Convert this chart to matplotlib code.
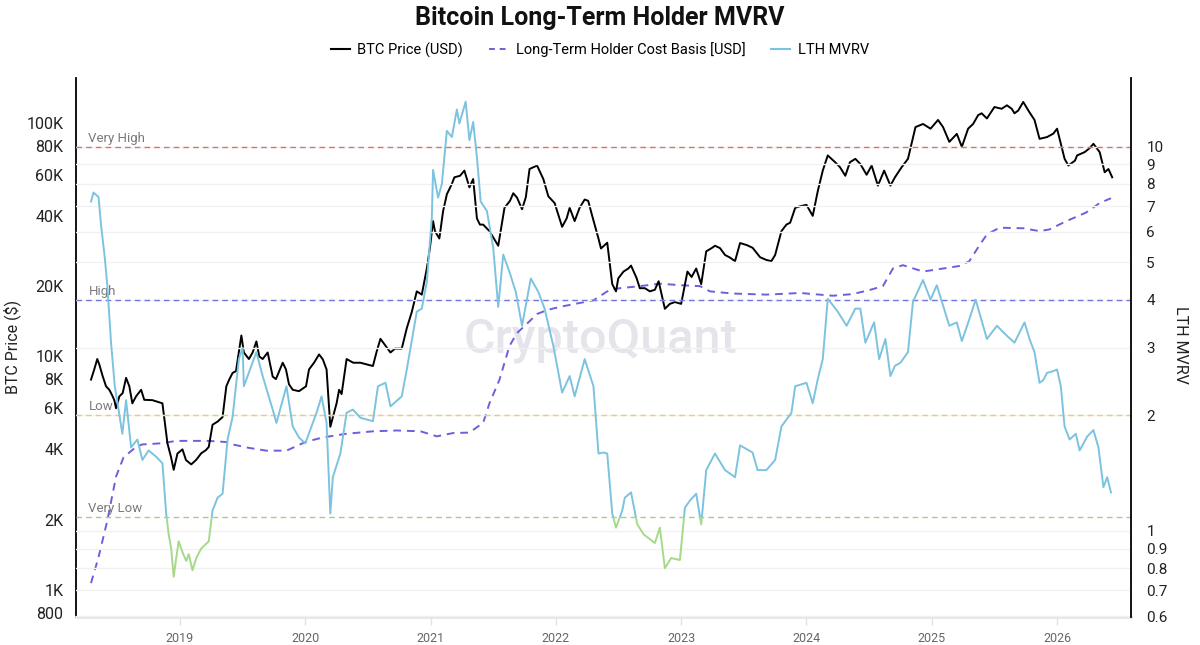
import matplotlib
matplotlib.use("Agg")
import matplotlib.pyplot as plt
from matplotlib.patches import Rectangle
from matplotlib.lines import Line2D
from matplotlib.ticker import NullLocator

plt.rcParams['font.family'] = ['Roboto', 'DejaVu Sans']

# ---------------- data (decimal year, value) ----------------
price_t = [2018.29, 2018.316, 2018.34, 2018.356, 2018.383, 2018.41, 2018.436, 2018.46, 2018.476, 2018.49,
           2018.516, 2018.543, 2018.57, 2018.596, 2018.62, 2018.649, 2018.69, 2018.715, 2018.78, 2018.86,
           2018.90, 2018.928, 2018.95, 2018.98, 2019.02, 2019.048, 2019.09, 2019.128, 2019.17, 2019.207,
           2019.23, 2019.26, 2019.30, 2019.34, 2019.37, 2019.393, 2019.42, 2019.447, 2019.49, 2019.51,
           2019.55, 2019.58, 2019.61, 2019.633, 2019.66, 2019.70, 2019.74, 2019.766, 2019.82, 2019.846,
           2019.87, 2019.90, 2019.95, 2020.006, 2020.03, 2020.07, 2020.11, 2020.14, 2020.17, 2020.20,
           2020.25, 2020.27, 2020.29, 2020.33, 2020.383, 2020.44, 2020.49, 2020.54, 2020.57, 2020.60,
           2020.68, 2020.716, 2020.77, 2020.81, 2020.85, 2020.89, 2020.93, 2020.97, 2020.995, 2021.02,
           2021.035, 2021.07, 2021.10, 2021.13, 2021.17, 2021.19, 2021.235, 2021.27, 2021.31, 2021.34,
           2021.37, 2021.394, 2021.42, 2021.47, 2021.54, 2021.59, 2021.634, 2021.66, 2021.69, 2021.73,
           2021.76, 2021.79, 2021.85, 2021.90, 2021.94, 2021.99, 2022.05, 2022.086, 2022.11, 2022.15,
           2022.19, 2022.23, 2022.258, 2022.29, 2022.34, 2022.36, 2022.41, 2022.45, 2022.48, 2022.498,
           2022.54, 2022.578, 2022.60, 2022.645, 2022.67, 2022.711, 2022.75, 2022.79, 2022.82, 2022.87,
           2022.91, 2022.95, 2023.00, 2023.05, 2023.083, 2023.12, 2023.16, 2023.20, 2023.243, 2023.27,
           2023.31, 2023.35, 2023.39, 2023.43, 2023.47, 2023.523, 2023.57, 2023.63, 2023.68, 2023.72,
           2023.75, 2023.80, 2023.84, 2023.87, 2023.91, 2023.95, 2024.00, 2024.05, 2024.09, 2024.13,
           2024.17, 2024.23, 2024.267, 2024.31, 2024.347, 2024.39, 2024.43, 2024.48, 2024.52, 2024.57,
           2024.62, 2024.67, 2024.706, 2024.76, 2024.81, 2024.87, 2024.93, 2024.99, 2025.05, 2025.09,
           2025.14, 2025.20, 2025.24, 2025.29, 2025.33, 2025.37, 2025.398, 2025.44, 2025.50, 2025.558,
           2025.60, 2025.638, 2025.66, 2025.69, 2025.73, 2025.78, 2025.82, 2025.86, 2025.92, 2025.97,
           2026.00, 2026.06, 2026.09, 2026.143, 2026.16, 2026.22, 2026.26, 2026.29, 2026.34, 2026.38,
           2026.41, 2026.44]
price_v = [7960, 8800, 9750, 9250, 8240, 7450, 7200, 6800, 6500, 6000,
           6740, 6970, 8100, 7450, 6300, 6740, 7200, 6520, 6500, 6300,
           4250, 3720, 3270, 3840, 4000, 3600, 3450, 3600, 3850, 3970,
           4100, 5100, 5260, 5500, 7450, 7960, 8500, 8650, 12300, 10400,
           9750, 10400, 11600, 10000, 9750, 10400, 8200, 8000, 9400, 8800,
           7600, 7200, 7100, 7450, 8800, 9400, 10200, 9720, 8800, 5000,
           6300, 7200, 6900, 9750, 9400, 9400, 9250, 9100, 10500, 11900,
           10400, 10800, 10800, 13200, 15500, 19000, 18400, 23800, 29200, 38000,
           34400, 32000, 41900, 49500, 54800, 58500, 59400, 62500, 53000, 57500,
           39000, 36700, 36700, 34400, 29800, 43300, 46400, 50000, 47900, 42700,
           48000, 63500, 65700, 57500, 48500, 45400, 35900, 39000, 43300, 38000,
           43400, 47000, 46400, 40000, 32000, 29000, 30700, 20400, 19000, 21600,
           23100, 23800, 24500, 21600, 19600, 19600, 19000, 19300, 21000, 16000,
           16800, 17100, 16800, 23100, 21900, 23800, 20400, 28200, 29100, 29800,
           29100, 27200, 26500, 25600, 30600, 30000, 29200, 26600, 25900, 25600,
           27200, 34400, 36700, 37400, 43300, 44000, 44600, 40000, 51000, 62500,
           72600, 67800, 64700, 59400, 67900, 70200, 66700, 60000, 65700, 53900,
           62500, 53900, 58500, 64700, 70200, 96000, 99000, 94500, 103000, 96000,
           83000, 89800, 79000, 94500, 99000, 108000, 110000, 104500, 117000, 115000,
           119000, 115000, 110000, 113000, 123000, 111000, 103000, 85500, 87000, 90000,
           94500, 70200, 65700, 69000, 72600, 75000, 78000, 81400, 75000, 61500,
           63500, 58500]

cost_t = [2018.29, 2018.35, 2018.42, 2018.49, 2018.55, 2018.65, 2018.70, 2018.86, 2018.97, 2019.23,
          2019.37, 2019.42, 2019.55, 2019.69, 2019.85, 2020.00, 2020.14, 2020.32, 2020.54, 2020.73,
          2020.92, 2021.05, 2021.18, 2021.31, 2021.42, 2021.47, 2021.55, 2021.63, 2021.69, 2021.75,
          2021.85, 2021.93, 2022.03, 2022.30, 2022.43, 2022.51, 2022.67, 2022.83, 2022.99, 2023.15,
          2023.23, 2023.41, 2023.68, 2023.95, 2024.21, 2024.37, 2024.51, 2024.61, 2024.69, 2024.77,
          2024.93, 2025.09, 2025.22, 2025.30, 2025.38, 2025.44, 2025.54, 2025.73, 2025.86, 2025.94,
          2026.07, 2026.23, 2026.34, 2026.43]
cost_v = [1070, 1380, 1980, 3060, 3700, 4100, 4200, 4250, 4350, 4350,
          4300, 4200, 4060, 3950, 3950, 4300, 4500, 4660, 4780, 4820,
          4780, 4550, 4700, 4720, 5200, 6300, 7950, 11100, 12600, 13500,
          15200, 15800, 16300, 17400, 19300, 19600, 20000, 20500, 20200, 20000,
          19000, 18600, 18400, 18700, 18200, 18500, 19300, 20000, 23800, 24600,
          23100, 23800, 24400, 25600, 29900, 33300, 35600, 35400, 34400, 35000,
          37900, 41300, 45400, 47600]

mvrv_t = [2018.29, 2018.31, 2018.35, 2018.37, 2018.40, 2018.42, 2018.45, 2018.48, 2018.51, 2018.54,
          2018.57, 2018.61, 2018.66, 2018.70, 2018.75, 2018.81, 2018.86, 2018.89, 2018.91, 2018.93,
          2018.95, 2018.97, 2018.99, 2019.02, 2019.05, 2019.07, 2019.10, 2019.13, 2019.17, 2019.20,
          2019.23, 2019.26, 2019.30, 2019.34, 2019.38, 2019.42, 2019.47, 2019.50, 2019.51, 2019.57,
          2019.61, 2019.66, 2019.74, 2019.77, 2019.85, 2019.90, 2019.95, 2020.00, 2020.09, 2020.13,
          2020.17, 2020.20, 2020.22, 2020.28, 2020.33, 2020.38, 2020.44, 2020.54, 2020.58, 2020.64,
          2020.68, 2020.77, 2020.81, 2020.89, 2020.93, 2020.97, 2021.01, 2021.02, 2021.06, 2021.09,
          2021.13, 2021.17, 2021.21, 2021.23, 2021.28, 2021.31, 2021.34, 2021.37, 2021.40, 2021.45,
          2021.50, 2021.54, 2021.58, 2021.63, 2021.68, 2021.73, 2021.80, 2021.86, 2021.91, 2021.98,
          2022.05, 2022.11, 2022.15, 2022.23, 2022.30, 2022.34, 2022.38, 2022.41, 2022.45, 2022.48,
          2022.53, 2022.55, 2022.60, 2022.65, 2022.70, 2022.79, 2022.83, 2022.87, 2022.92, 2022.99,
          2023.03, 2023.07, 2023.12, 2023.16, 2023.20, 2023.27, 2023.35, 2023.43, 2023.47, 2023.57,
          2023.61, 2023.68, 2023.75, 2023.80, 2023.88, 2023.91, 2024.00, 2024.05, 2024.09, 2024.13,
          2024.17, 2024.21, 2024.25, 2024.32, 2024.39, 2024.43, 2024.47, 2024.54, 2024.58, 2024.63,
          2024.67, 2024.706, 2024.75, 2024.81, 2024.85, 2024.93, 2024.99, 2025.04, 2025.14, 2025.20,
          2025.24, 2025.30, 2025.35, 2025.44, 2025.52, 2025.60, 2025.66, 2025.74, 2025.78, 2025.82,
          2025.86, 2025.89, 2025.92, 2025.96, 2026.00, 2026.03, 2026.06, 2026.10, 2026.15, 2026.18,
          2026.24, 2026.29, 2026.33, 2026.37, 2026.40, 2026.43]
mvrv_v = [7.2, 7.6, 7.4, 6.27, 5.14, 4.37, 3.09, 2.38, 2.07, 1.79,
          2.19, 1.65, 1.73, 1.53, 1.62, 1.56, 1.50, 1.11, 0.98, 0.90,
          0.76, 0.85, 0.94, 0.88, 0.835, 0.87, 0.79, 0.85, 0.90, 0.92,
          0.94, 1.13, 1.22, 1.25, 1.73, 1.98, 2.80, 3.00, 2.38, 2.69,
          2.92, 2.53, 2.07, 1.91, 2.38, 1.87, 1.75, 1.69, 2.03, 2.24,
          1.91, 1.11, 1.38, 1.59, 2.03, 2.07, 1.97, 1.93, 2.38, 2.43,
          2.11, 2.24, 2.63, 3.72, 3.79, 4.45, 6.53, 8.7, 7.37, 8.0,
          11.0, 10.6, 12.5, 11.5, 13.1, 10.4, 11.6, 9.4, 7.2, 6.8,
          5.46, 3.83, 5.24, 4.72, 4.19, 3.42, 4.54, 4.19, 3.79, 3.03,
          2.29, 2.53, 2.24, 2.80, 2.38, 1.59, 1.60, 1.59, 1.11, 1.02,
          1.13, 1.22, 1.26, 1.04, 0.98, 0.93, 1.02, 0.80, 0.85, 0.84,
          1.15, 1.20, 1.25, 1.04, 1.44, 1.59, 1.44, 1.38, 1.67, 1.60,
          1.44, 1.44, 1.53, 1.87, 2.03, 2.38, 2.43, 2.15, 2.48, 2.80,
          4.02, 3.87, 3.72, 3.42, 3.79, 3.79, 3.09, 3.49, 2.80, 3.16,
          2.53, 2.69, 2.74, 2.92, 3.95, 4.50, 4.00, 4.36, 3.42, 3.49,
          3.12, 3.56, 4.00, 3.16, 3.42, 3.22, 3.09, 3.49, 3.16, 2.92,
          2.43, 2.47, 2.58, 2.60, 2.63, 2.38, 1.87, 1.73, 1.79, 1.62,
          1.76, 1.83, 1.65, 1.30, 1.38, 1.26]

years = [2019, 2020, 2021, 2022, 2023, 2024, 2025, 2026]
price_ticks = [800, 1000, 2000, 4000, 6000, 8000, 10000, 20000, 40000, 60000, 80000, 100000]
price_labels = ['800', '1K', '2K', '4K', '6K', '8K', '10K', '20K', '40K', '60K', '80K', '100K']
mvrv_ticks = [0.6, 0.7, 0.8, 0.9, 1, 2, 3, 4, 5, 6, 7, 8, 9, 10]
mvrv_labels = ['0.6', '0.7', '0.8', '0.9', '1', '2', '3', '4', '5', '6', '7', '8', '9', '10']
zone_names = ['Very High', 'High', 'Low', 'Very Low']
zone_levels = [10, 4, 2, 1.09]
zone_colors = ['#e07070', '#7575e0', '#f2c870', '#a9cc8c']

# ---------------- figure ----------------
fig = plt.figure(figsize=(12, 6.45), dpi=100)
ax = fig.add_axes([0.0633, 0.0434, 0.8792, 0.8357])
ax2 = ax.twinx()

XMIN, XMAX = 2018.17, 2026.59
ax.set_xlim(XMIN, XMAX)
ax.set_yscale('log')
ax.set_ylim(766, 155800)
ax2.set_yscale('log')
ax2.set_ylim(0.597, 15.1)

ax2.set_yticks(mvrv_ticks)
ax2.set_yticklabels(mvrv_labels)
ax2.yaxis.set_minor_locator(NullLocator())
ax2.grid(True, axis='y', color='#f1f1f3', lw=1.0)
ax2.set_axisbelow(True)

# watermark
ax.text(0.497, 0.514, 'CryptoQuant', transform=ax.transAxes, fontsize=35, color='#e4e4ea',
        fontweight='medium', ha='center', va='center', zorder=0)

# price & cost basis
ax.plot(price_t, price_v, color='black', lw=1.4, zorder=3)
ax.plot(cost_t, cost_v, color='#6d5fdc', lw=1.4, ls=(0, (4, 3)), zorder=2)

# threshold lines
for name, lvl, col in zip(zone_names, zone_levels, zone_colors):
    ax2.axhline(lvl, color=col, lw=1.0, ls=(0, (4, 3)), zorder=1)
    ax2.text(2018.27, lvl * 1.012, name, color='#7a7a7a', fontsize=9.5, va='bottom', ha='left')

# MVRV split at Very Low level
thr = zone_levels[-1]
blue, = ax2.plot(mvrv_t, mvrv_v, color='#7cc3df', lw=1.4, zorder=4)
green, = ax2.plot(mvrv_t, mvrv_v, color='#a6d98a', lw=1.4, zorder=4)
r_up = Rectangle((XMIN, thr), XMAX - XMIN, 100, transform=ax2.transData)
r_dn = Rectangle((XMIN, 0.1), XMAX - XMIN, thr - 0.1, transform=ax2.transData)
blue.set_clip_path(r_up)
green.set_clip_path(r_dn)

# ticks
ax.set_yticks(price_ticks)
ax.set_yticklabels(price_labels)
ax.yaxis.set_minor_locator(NullLocator())
ax.tick_params(axis='y', length=0, pad=9, labelsize=11.5, labelcolor='#222222')
ax2.tick_params(axis='y', length=0, pad=11, labelsize=11, labelcolor='#222222')
ax.set_xticks(years)
ax.set_xticklabels([str(y) for y in years])
ax.tick_params(axis='x', length=6, color='#e2e2e2', width=1, pad=5, labelsize=9, labelcolor='#666666')

# spines
for s in ['top', 'right']:
    ax.spines[s].set_visible(False)
ax.spines['left'].set_color('black')
ax.spines['left'].set_linewidth(1.3)
ax.spines['bottom'].set_color('#e6e6e6')
ax.spines['bottom'].set_linewidth(2)
for s in ['top', 'left', 'bottom']:
    ax2.spines[s].set_visible(False)
ax2.spines['right'].set_color('black')
ax2.spines['right'].set_linewidth(1.3)

# labels
fig.text(12 / 1200, 1 - 347 / 645, 'BTC Price ($)', rotation=90, ha='center', va='center',
         fontsize=11.5, color='#222222')
fig.text(1181 / 1200, 1 - 345 / 645, 'LTH MVRV', rotation=270, ha='center', va='center',
         fontsize=11.5, color='#222222')
fig.text(0.5, 1 - 18 / 645, 'Bitcoin Long-Term Holder MVRV', ha='center', va='center',
         fontsize=18, fontweight='bold', color='#111111')

handles = [Line2D([], [], color='black', lw=1.5),
           Line2D([], [], color='#6d5fdc', lw=1.4, ls=(0, (3, 2.5))),
           Line2D([], [], color='#7cc3df', lw=1.5)]
fig.legend(handles, ['BTC Price (USD)', 'Long-Term Holder Cost Basis [USD]', 'LTH MVRV'],
           loc='center', bbox_to_anchor=(0.5, 1 - 50 / 645), ncol=3, frameon=False,
           fontsize=10.5, handlelength=1.3, handletextpad=0.5, columnspacing=1.8)

fig.savefig('out.png', dpi=100, facecolor='white')
